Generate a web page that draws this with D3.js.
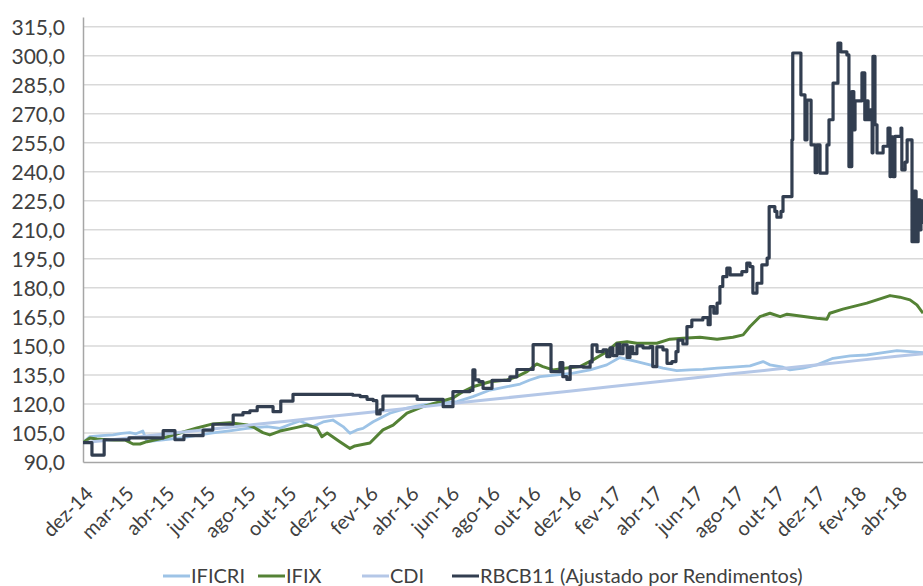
<!DOCTYPE html>
<html>
<head>
<meta charset="utf-8">
<script src="https://cdn.jsdelivr.net/npm/d3@7"></script>
<style>
  body { margin: 0; background: #fff; }
  svg text { font-family: Lato, "Open Sans", sans-serif; fill: #404040; }
</style>
</head>
<body>
<div id="chart"></div>
<script>
// rótulos do eixo x (um por posição de categoria)
var xLabels = ['dez-14', 'mar-15', 'abr-15', 'jun-15', 'ago-15', 'out-15', 'dez-15', 'fev-16', 'abr-16', 'jun-16',
    'ago-16', 'out-16', 'dez-16', 'fev-17', 'abr-17', 'jun-17', 'ago-17', 'out-17', 'dez-17', 'fev-18', 'abr-18'];
var yTicks = [90, 105, 120, 135, 150, 165, 180, 195, 210, 225, 240, 255, 270, 285, 300, 315];
var seriesNames = ['IFICRI', 'IFIX', 'CDI', 'RBCB11 (Ajustado por Rendimentos)'];

// [posição no eixo x (em rótulos), valor]
var ificri = [[0, 100.0], [0.17, 103.1], [0.45, 103.6], [0.74, 104.0], [0.95, 104.8], [1.15, 105.2], [1.3, 104.6], [1.47, 106.0],
    [1.57, 100.5], [1.97, 101.4], [2.38, 102.4], [2.8, 103.8], [3.19, 105.0], [3.6, 106.1], [4.03, 107.4], [4.52, 108.3],
    [4.84, 107.4], [5.1, 109.5], [5.33, 111.2], [5.65, 108.3], [5.9, 110.7], [6.14, 111.7], [6.39, 108.3], [6.56, 104.8],
    [6.73, 106.6], [6.88, 107.4], [7.13, 110.8], [7.54, 115.2], [7.96, 117.8], [8.35, 119.5], [8.77, 120.4], [9.19, 121.2],
    [9.58, 123.8], [10.0, 127.2], [10.42, 128.9], [10.74, 130.3], [10.98, 132.4], [11.23, 134.1], [11.65, 135.0],
    [12.04, 135.9], [12.46, 137.6], [12.87, 140.2], [13.19, 144.0], [13.61, 141.9], [13.93, 140.2], [14.25, 138.5],
    [14.59, 137.2], [14.91, 137.6], [15.23, 137.9], [15.58, 138.5], [15.97, 139.0], [16.39, 139.7], [16.71, 141.9],
    [16.88, 140.2], [17.2, 139.0], [17.37, 137.6], [17.69, 138.5], [18.03, 140.2], [18.43, 143.6], [18.85, 144.8],
    [19.26, 145.3], [19.66, 146.5], [20.0, 147.6], [20.32, 147.0], [20.64, 146.5]];

var ifix = [[0, 100.0], [0.17, 102.4], [0.34, 101.9], [0.66, 101.4], [1.03, 101.4], [1.23, 99.3], [1.4, 99.3], [1.57, 100.5],
    [1.97, 102.4], [2.38, 105.0], [2.8, 107.6], [3.19, 109.7], [3.61, 110.3], [4.03, 109.1], [4.18, 108.1], [4.42, 105.2],
    [4.59, 104.0], [4.84, 106.0], [5.26, 107.9], [5.5, 109.1], [5.75, 107.6], [5.87, 103.1], [6.0, 105.0], [6.31, 100.5],
    [6.56, 97.0], [6.68, 98.3], [7.05, 99.8], [7.37, 106.6], [7.62, 109.1], [7.96, 115.3], [8.35, 118.6], [8.77, 121.2],
    [9.09, 123.1], [9.34, 126.4], [9.58, 128.9], [10.0, 131.5], [10.42, 132.4], [10.66, 134.1], [10.91, 136.7],
    [11.15, 140.7], [11.3, 139.3], [11.55, 137.6], [11.89, 138.6], [12.21, 139.3], [12.53, 142.8], [12.87, 147.0],
    [13.12, 151.5], [13.37, 152.2], [13.61, 151.4], [14.1, 151.4], [14.42, 153.5], [14.74, 154.0], [15.16, 154.5],
    [15.58, 153.5], [15.97, 154.5], [16.22, 155.7], [16.39, 160.0], [16.63, 165.1], [16.88, 166.9], [17.13, 165.1],
    [17.3, 166.4], [17.62, 165.5], [18.03, 164.3], [18.28, 163.8], [18.35, 166.9], [18.67, 169.0], [19.26, 172.1],
    [19.83, 176.0], [20.07, 175.2], [20.32, 173.8], [20.49, 171.2], [20.64, 166.9]];

var cdi = [[0, 100.0], [1, 102.2], [2, 104.5], [3, 106.7], [4, 108.9], [5, 111.1], [6, 113.4], [7, 115.6], [8, 117.8],
    [9, 120.1], [10, 122.3], [11, 124.5], [12, 126.7], [13, 129.0], [14, 131.2], [15, 133.4], [16, 135.7], [17, 137.9],
    [18, 140.1], [19, 142.4], [20, 144.6], [20.64, 146.0]];

// cota em degraus
var rbcb11 = [[0, 100.0], [0.22, 93.6], [0.52, 101.5], [1.13, 102.5], [1.97, 106.2], [2.26, 101.5], [2.48, 103.6],
    [2.95, 106.5], [3.19, 109.5], [3.69, 114.3], [3.93, 115.5], [4.1, 116.5], [4.28, 118.6], [4.67, 116.0], [4.86, 121.5],
    [5.16, 125.0], [6.63, 124.5], [6.81, 123.8], [6.98, 122.4], [7.13, 121.7], [7.22, 114.8], [7.3, 117.0], [7.37, 124.1],
    [8.21, 122.4], [8.85, 118.6], [9.09, 126.4], [9.51, 127.0], [9.58, 137.6], [9.63, 132.4], [9.73, 131.5], [9.83, 128.1],
    [10.05, 132.2], [10.49, 134.0], [10.66, 137.8], [11.06, 150.7], [11.5, 136.7], [11.72, 141.4], [11.79, 134.1],
    [11.89, 132.7], [11.97, 139.3], [12.29, 139.0], [12.46, 141.7], [12.51, 150.5], [12.63, 147.0], [12.78, 148.0],
    [12.87, 144.5], [12.95, 149.0], [13.02, 145.0], [13.12, 151.0], [13.19, 146.0], [13.27, 150.5], [13.37, 144.0],
    [13.44, 149.5], [13.51, 146.0], [13.61, 150.0], [13.76, 149.0], [13.93, 149.6], [14.0, 139.3], [14.1, 149.5],
    [14.25, 148.0], [14.35, 141.0], [14.47, 141.9], [14.57, 147.0], [14.62, 153.0], [14.74, 151.0], [14.84, 160.0],
    [14.96, 163.4], [15.23, 164.6], [15.36, 161.0], [15.41, 170.3], [15.5, 166.9], [15.58, 172.1], [15.65, 180.7],
    [15.72, 185.8], [15.82, 190.2], [15.9, 186.7], [16.19, 188.4], [16.31, 192.8], [16.39, 191.0], [16.46, 177.3],
    [16.56, 182.4], [16.68, 191.9], [16.81, 195.4], [16.86, 222.0], [17.0, 219.5], [17.05, 216.5], [17.15, 219.5],
    [17.2, 227.2], [17.42, 256.5], [17.44, 301.4], [17.64, 279.8], [17.74, 256.5], [17.79, 277.0], [17.89, 253.9],
    [17.99, 239.5], [18.03, 253.9], [18.11, 239.3], [18.28, 253.9], [18.33, 266.9], [18.43, 285.8], [18.55, 306.5],
    [18.62, 302.0], [18.77, 300.4], [18.82, 242.7], [18.89, 281.5], [18.94, 261.7], [18.97, 276.7], [19.14, 291.1],
    [19.21, 266.9], [19.26, 276.7], [19.29, 266.9], [19.34, 272.0], [19.39, 249.8], [19.41, 299.6], [19.46, 264.3],
    [19.51, 249.7], [19.66, 253.2], [19.78, 262.6], [19.83, 237.5], [19.85, 258.0], [19.9, 237.5], [19.95, 258.3],
    [20.1, 262.6], [20.12, 241.0], [20.2, 245.0], [20.25, 256.5], [20.37, 203.9], [20.42, 230.0], [20.47, 203.9],
    [20.52, 225.5], [20.57, 210.0], [20.59, 225.0], [20.64, 213.0]];

var width = 923;
var height = 586;
var padding = { top: 17, right: 0, bottom: 124, left: 83 };
var colors = ['#9dc3e6', '#548235', '#b4c7e7', '#323e50'];
var strokes = [2.8, 3, 3, 3.2];

var svg = d3.select('#chart')
    .append('svg')
    .attr('width', width)
    .attr('height', height);

var xScale = d3.scaleLinear()
    .domain([0, 20.64])
    .range([padding.left, width - padding.right]);
var yScale = d3.scaleLinear()
    .domain([90, 320])
    .range([height - padding.bottom, padding.top]);

var ptBR = d3.formatLocale({ decimal: ',', thousands: '.', grouping: [3], currency: ['R$', ''] });
var fmt = ptBR.format('.1f');

// linhas de grade
svg.append('g')
    .selectAll('line')
    .data(yTicks.slice(1))
    .enter()
    .append('line')
    .attr('x1', padding.left)
    .attr('x2', width)
    .attr('y1', function (d) { return yScale(d); })
    .attr('y2', function (d) { return yScale(d); })
    .attr('stroke', '#d9d9d9')
    .attr('stroke-width', 1.5);

// eixo y
var yAxis = svg.append('g')
    .attr('transform', 'translate(' + padding.left + ',0)')
    .call(d3.axisLeft(yScale).tickValues(yTicks).tickFormat(fmt).tickSize(0).tickPadding(18));
yAxis.select('.domain').attr('stroke', '#a6a6a6').attr('stroke-width', 1.5);
yAxis.selectAll('text').style('font-size', '21px').attr('dy', '0.36em');

// eixo x
var xAxis = svg.append('g')
    .attr('transform', 'translate(0,' + yScale(90) + ')')
    .call(d3.axisBottom(xScale).tickValues(d3.range(xLabels.length)).tickFormat(function (i) { return xLabels[i]; }).tickSize(0));
xAxis.select('.domain').attr('stroke', '#a6a6a6').attr('stroke-width', 1.5);
xAxis.selectAll('text')
    .style('font-size', '20px')
    .attr('text-anchor', 'end')
    .attr('y', 0)
    .attr('dy', 0)
    .attr('transform', 'translate(11,33) rotate(-45)');

// séries
svg.append('clipPath')
    .attr('id', 'plot')
    .append('rect')
    .attr('x', padding.left)
    .attr('y', padding.top)
    .attr('width', width - padding.left)
    .attr('height', yScale(90) - padding.top);

var line = d3.line()
    .x(function (d) { return xScale(d[0]); })
    .y(function (d) { return yScale(d[1]); });
var stepLine = d3.line()
    .curve(d3.curveStepAfter)
    .x(function (d) { return xScale(d[0]); })
    .y(function (d) { return yScale(d[1]); });

var series = [ificri, ifix, cdi, rbcb11];
var plot = svg.append('g').attr('clip-path', 'url(#plot)');
series.forEach(function (s, i) {
    plot.append('path')
        .attr('d', i == 3 ? stepLine(s) : line(s))
        .attr('fill', 'none')
        .attr('stroke', colors[i])
        .attr('stroke-width', strokes[i])
        .attr('stroke-linejoin', 'round');
});

// legenda
var legendX = [163, 258, 362, 452];
var legend = svg.append('g').attr('transform', 'translate(0,576)');
seriesNames.forEach(function (name, i) {
    legend.append('line')
        .attr('x1', legendX[i])
        .attr('x2', legendX[i] + 27)
        .attr('stroke', colors[i])
        .attr('stroke-width', 3);
    legend.append('text')
        .attr('x', legendX[i] + 28)
        .attr('dy', '0.35em')
        .style('font-size', '20px')
        .text(name);
});
</script>
</body>
</html>
